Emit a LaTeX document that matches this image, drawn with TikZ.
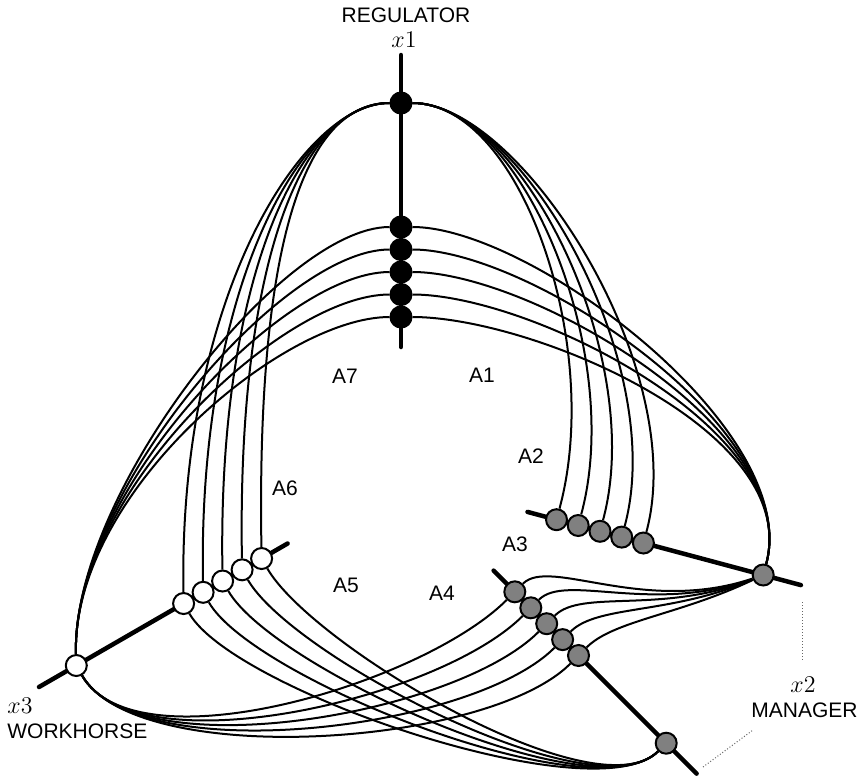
\documentclass[tikz,border=0pt]{standalone}
\usepackage{amsmath}
\usepackage{fontspec}
\newfontfamily\labelfont{Liberation Sans}
\usepackage{tikz}
\usetikzlibrary{positioning, calc, backgrounds}

\begin{document}
\begin{tikzpicture}[x=0.5pt, y=-0.5pt,
        dot/.style={circle, draw=black, line width=1pt, minimum size=10.5pt, inner sep=0pt},
        reg/.style={dot, fill=black},
        man/.style={dot, fill=black!50},
        work/.style={dot, fill=white},
        axis/.style={line width=2.25pt, line cap=round},
        link/.style={line width=1pt},
        lbl/.style={font=\labelfont\fontsize{10.5}{12}\selectfont, inner sep=0pt},
        axname/.style={font=\fontsize{12.5}{14}\selectfont, inner sep=0pt},
        lead/.style={densely dotted, line width=0.5pt, black!60},
    ]
    \useasboundingbox (0,0) rectangle (860,782);

    % Axis ends
    \coordinate (r-top) at (401,55);  \coordinate (r-bot) at (401,347);
    \coordinate (ma-in) at (527.5,511.9); \coordinate (ma-out) at (800.9,585.1);
    \coordinate (mb-in) at (493.6,570.6); \coordinate (mb-out) at (696.6,773.6);
    \coordinate (w-in) at (287.6,543.5); \coordinate (w-out) at (39,687);

    % Regulator (x1)
    \node[reg] (r0) at (401,103) {};
    \node[reg] (r1) at (401,317) {}; \node[reg] (r2) at (401,294.5) {}; \node[reg] (r3) at (401,272) {};
    \node[reg] (r4) at (401,249.5) {}; \node[reg] (r5) at (401,227) {};

    % Manager (x2), upper axis
    \node[man] (ma0) at (763.2,575) {};
    \node[man] (ma1) at (556.5,519.7) {}; \node[man] (ma2) at (578.2,525.5) {}; \node[man] (ma3) at (600,531.3) {};
    \node[man] (ma4) at (621.7,537.1) {}; \node[man] (ma5) at (643.4,543) {};

    % Manager (x2), lower axis
    \node[man] (mb0) at (666.2,743.2) {};
    \node[man] (mb1) at (514.8,591.8) {}; \node[man] (mb2) at (530.8,607.8) {}; \node[man] (mb3) at (546.7,623.7) {};
    \node[man] (mb4) at (562.6,639.6) {}; \node[man] (mb5) at (578.5,655.5) {};

    % Workhorse (x3)
    \node[work] (w0) at (76.3,665.5) {};
    \node[work] (w1) at (261.6,558.5) {}; \node[work] (w2) at (242.1,569.8) {}; \node[work] (w3) at (222.6,581) {};
    \node[work] (w4) at (203.1,592.3) {}; \node[work] (w5) at (183.6,603.5) {};

    \begin{scope}[on background layer]
    \draw[axis] (r-bot) -- (r-top);
    \draw[axis] (ma-in) -- (ma-out);
    \draw[axis] (mb-in) -- (mb-out);
    \draw[axis] (w-in) -- (w-out);

    % Regulator to workhorse
    \draw[link] (r0) .. controls +(-100,0) and +(-5,-303) .. (w1);
    \draw[link] (r0) .. controls +(-100,0) and +(-5,-303) .. (w2);
    \draw[link] (r0) .. controls +(-100,0) and +(-5,-303) .. (w3);
    \draw[link] (r0) .. controls +(-100,0) and +(-5,-303) .. (w4);
    \draw[link] (r0) .. controls +(-100,0) and +(-5,-303) .. (w5);
    \draw[link] (r1) .. controls +(-120,0) and +(-5,-170) .. (w0);
    \draw[link] (r2) .. controls +(-120,0) and +(-5,-170) .. (w0);
    \draw[link] (r3) .. controls +(-120,0) and +(-5,-170) .. (w0);
    \draw[link] (r4) .. controls +(-120,0) and +(-5,-170) .. (w0);
    \draw[link] (r5) .. controls +(-120,0) and +(-5,-170) .. (w0);

    % Regulator to manager
    \draw[link] (r0) .. controls +(120,0) and +(47,-174) .. (ma1);
    \draw[link] (r0) .. controls +(120,0) and +(47,-174) .. (ma2);
    \draw[link] (r0) .. controls +(120,0) and +(47,-174) .. (ma3);
    \draw[link] (r0) .. controls +(120,0) and +(47,-174) .. (ma4);
    \draw[link] (r0) .. controls +(120,0) and +(47,-174) .. (ma5);
    \draw[link] (r1) .. controls +(130,0) and +(39,-145) .. (ma0);
    \draw[link] (r2) .. controls +(130,0) and +(39,-145) .. (ma0);
    \draw[link] (r3) .. controls +(130,0) and +(39,-145) .. (ma0);
    \draw[link] (r4) .. controls +(130,0) and +(39,-145) .. (ma0);
    \draw[link] (r5) .. controls +(130,0) and +(39,-145) .. (ma0);

    % Manager to manager
    \draw[link] (mb1) .. controls +(35,-35) and +(-120,40) .. (ma0);
    \draw[link] (mb2) .. controls +(35,-35) and +(-111,40) .. (ma0);
    \draw[link] (mb3) .. controls +(35,-35) and +(-102,40) .. (ma0);
    \draw[link] (mb4) .. controls +(35,-35) and +(-93,40) .. (ma0);
    \draw[link] (mb5) .. controls +(35,-35) and +(-84,40) .. (ma0);

    % Manager to workhorse
    \draw[link] (mb1) .. controls +(-92,92) and +(60,104) .. (w0);
    \draw[link] (mb2) .. controls +(-92,92) and +(60,104) .. (w0);
    \draw[link] (mb3) .. controls +(-92,92) and +(60,104) .. (w0);
    \draw[link] (mb4) .. controls +(-92,92) and +(60,104) .. (w0);
    \draw[link] (mb5) .. controls +(-92,92) and +(60,104) .. (w0);
    \draw[link] (w1) .. controls +(50,87) and +(-71,71) .. (mb0);
    \draw[link] (w2) .. controls +(50,87) and +(-71,71) .. (mb0);
    \draw[link] (w3) .. controls +(50,87) and +(-71,71) .. (mb0);
    \draw[link] (w4) .. controls +(50,87) and +(-71,71) .. (mb0);
    \draw[link] (w5) .. controls +(50,87) and +(-71,71) .. (mb0);
    \end{scope}

    % Axis names
    \node[lbl, anchor=base] (regname) at (406,22) {REGULATOR};
    \node[axname, anchor=base] (x1name) at (404,47) {$x1$};
    \node[axname, anchor=base] (x2name) at (803,692) {$x2$};
    \node[lbl, anchor=base] (mgrname) at (804.5,717) {MANAGER};
    \node[axname, anchor=base west] (x3name) at (7,713) {$x3$};
    \node[lbl, anchor=base west] (wrkname) at (7,738) {WORKHORSE};

    \coordinate (lead1a) at (802,602); \coordinate (lead1b) at (802,662);
    \coordinate (lead2a) at (703,767); \coordinate (lead2b) at (753,730);
    \draw[lead] (lead1a) -- (lead1b);
    \draw[lead] (lead2a) -- (lead2b);

    % Sectors
    \node[lbl] (a7) at (345,376) {A7}; \node[lbl] (a1) at (482,375) {A1};
    \node[lbl] (a2) at (531,456) {A2}; \node[lbl] (a6) at (285,488) {A6};
    \node[lbl] (a3) at (515,544) {A3}; \node[lbl] (a5) at (346,585) {A5};
    \node[lbl] (a4) at (442,593) {A4};
\end{tikzpicture}
\end{document}
